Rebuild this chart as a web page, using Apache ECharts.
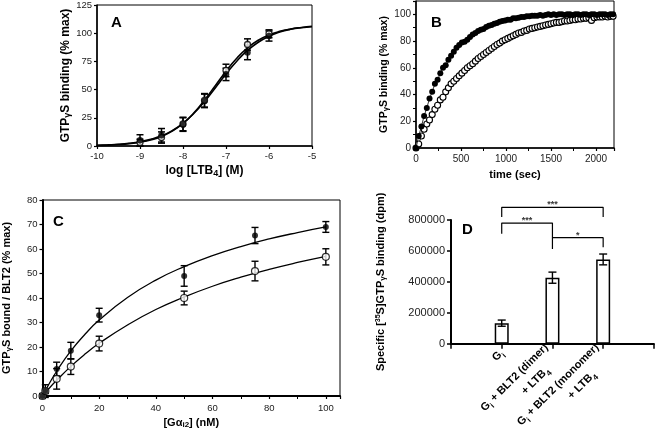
<!DOCTYPE html>
<html><head><meta charset="utf-8">
<script src="https://cdn.jsdelivr.net/npm/echarts@6/dist/echarts.min.js"></script>
<style>html,body{margin:0;padding:0;background:#fff}#c{width:656px;height:444px}</style>
</head><body><div id="c"></div>
<script>
// ---------- Panel A ----------
const aX = [-9, -8.5, -8, -7.5, -7, -6.5, -6];
const aOpen = [3, 7.5, 19.5, 40.5, 67, 90, 99.5];
const aOpenErr = [3, 5, 6, 6, 5.5, 5, 3.5];
const aFilled = [5, 9.5, 19, 40, 63.5, 83, 97.5];
const aFilledErr = [5, 6, 6, 6, 5.5, 6.5, 4.5];
const aCurveX = [-10, -9.75, -9.5, -9.25, -9, -8.75, -8.5, -8.25, -8, -7.75, -7.5, -7.25, -7, -6.75, -6.5, -6.25, -6, -5.75, -5.5, -5.25, -5];
const aCurveOpen = [0.5, 0.8, 1.3, 2.1, 3.4, 5.4, 8.5, 13.2, 20.0, 29.2, 40.7, 53.5, 66.3, 77.8, 87.0, 93.8, 98.5, 101.6, 103.6, 104.9, 105.7];
const aCurveFilled = [0.6, 1.0, 1.5, 2.4, 3.8, 5.9, 9.0, 13.6, 20.1, 28.8, 39.4, 51.5, 63.8, 75.2, 84.7, 92.0, 97.3, 101.0, 103.5, 105.1, 106.2];

// ---------- Panel B ----------
const bTime = [0,30,60,90,120,150,180,210,240,270,300,330,360,390,420,450,480,510,540,570,600,630,660,690,720,750,780,810,840,870,900,930,960,990,1020,1050,1080,1110,1140,1170,1200,1230,1260,1290,1320,1350,1380,1410,1440,1470,1500,1530,1560,1590,1620,1650,1680,1710,1740,1770,1800,1830,1860,1890,1920,1950,1980,2010,2040,2070,2100,2130,2160,2190];
const bFilled = [0,9,16,24,30,37,42,48,51,56,60,62,66,69,72,75,77,79,79.5,81,83,85,86,87.5,88.5,89,90.5,91.5,92,93,93.5,94.5,95,95.5,96,96,97,97,97.5,98,98,98.5,98.5,99,99,99,99.5,99,99.5,100,99.5,100,99.5,100,100,99.5,100,100,99.5,100,100,99.5,100,100,99.5,100,100,99.5,100,100,100,99.5,100,100];
const bOpen = [0,3,9,14,18,21,25,29,32,36,38,42,45,48,50,52,54,56,58,60,61.5,63,65,67,68.5,70,71.5,73,74.5,76,77.5,78.5,80,81,82,83,84,85,86,86.5,87.5,88,89,89.5,90,90.5,91,91.5,92,92.5,93,93.5,94,94,94.5,95,95,95.5,96,96,96.5,96.5,97,97,97.5,95.5,97.5,98,98,98,98.5,98,98.5,98.5];

// ---------- Panel C ----------
const cX = [0, 1, 5, 10, 20, 50, 75, 100];
const cFilled = [0, 2, 11, 18.5, 33, 49, 65.5, 69];
const cFilledErr = [0.5, 1, 2.8, 3.4, 2.8, 4.2, 3.3, 2.2];
const cOpen = [0, 2, 7, 12, 21.4, 40, 51, 56.8];
const cOpenErr = [1, 2.6, 4.2, 3.2, 3, 2.8, 4, 3.3];
const cCurveX = [0, 2, 5, 10, 15, 20, 30, 40, 50, 60, 70, 80, 90, 100];
const cCurveFilled = [0, 4.3, 10.1, 18.4, 25.2, 31, 40.2, 47.3, 52.8, 57.3, 61, 64.1, 66.7, 69];
const cCurveOpen = [0, 2.7, 6.4, 12.1, 17.1, 21.5, 29, 35.3, 40.4, 44.8, 48.5, 51.7, 54.5, 57];

// ---------- Panel D ----------
const dPos = [1, 2, 3];
const dLabels = ['G{s|i}', 'G{s|i} + BLT2 (dimer)\n+ LTB{s|4}     ', 'G{s|i} + BLT2 (monomer)\n+ LTB{s|4}       '];
const dVals = [133000, 427000, 545000];
const dErr = [20000, 36000, 35000];
const dBrackets = [
  [[1, 711000], [1, 780000], [2, 780000], [2, 613000]],
  [[2, 686000], [3, 686000], [3, 623000]],
  [[1, 819000], [1, 882000], [3, 882000], [3, 819000]]
];
const dStars = [[1.5, 780000, '***'], [2.5, 686000, '*'], [2, 882000, '***']];

const FONT = 'Liberation Sans, Arial, Helvetica, sans-serif';
const chart = echarts.init(document.getElementById('c'), null, {renderer: 'canvas'});

function errRender(capW, lw) {
  return function (params, api) {
    const x = api.value(0), lo = api.value(1), hi = api.value(2);
    const p1 = api.coord([x, lo]), p2 = api.coord([x, hi]);
    const w = capW / 2, st = {stroke: '#000', lineWidth: lw};
    return {type: 'group', children: [
      {type: 'line', shape: {x1: p1[0], y1: p1[1], x2: p2[0], y2: p2[1]}, style: st},
      {type: 'line', shape: {x1: p1[0] - w, y1: p1[1], x2: p1[0] + w, y2: p1[1]}, style: st},
      {type: 'line', shape: {x1: p2[0] - w, y1: p2[1], x2: p2[0] + w, y2: p2[1]}, style: st}
    ]};
  };
}
const zip2 = (xs, ys) => xs.map((x, i) => [x, ys[i]]);
const errData = (xs, ys, es) => xs.map((x, i) => [x, ys[i] - es[i], ys[i] + es[i]]);

const subRich = {s: {fontSize: 8, fontWeight: 'bold', fontFamily: FONT, verticalAlign: 'bottom', padding: [5, 0, 0, 0], color: '#000'}};
function nameStyle(size) {
  return {fontFamily: FONT, fontWeight: 'bold', fontSize: size, color: '#000',
    rich: {g: {fontSize: size - 3, fontWeight: 'bold', fontFamily: FONT, padding: [4, 0, 0, 0], color: '#000'},
           s: {fontSize: size - 3, fontWeight: 'bold', fontFamily: FONT, padding: [5, 0, 0, 0], color: '#000'},
           u: {fontSize: size - 4, fontWeight: 'bold', fontFamily: FONT, padding: [0, 0, 5, 0], color: '#000'}}};
}
function baseAxis(o) {
  return Object.assign({
    axisLine: {show: true, onZero: false, lineStyle: {color: '#000', width: 1.5}},
    axisTick: {show: true, length: 3, lineStyle: {color: '#000', width: 1.2}},
    splitLine: {show: false},
    nameLocation: 'middle'
  }, o);
}
const lbl = (size, margin, fmt) => ({fontFamily: FONT, fontSize: size, color: '#222', margin: margin, formatter: fmt || (v => String(v))});

const option = {
  animation: false,
  backgroundColor: '#fff',
  title: [
    {text: 'A', left: 106, top: 10, textStyle: {fontFamily: FONT, fontWeight: 'bold', fontSize: 15, color: '#000'}},
    {text: 'B', left: 426, top: 10, textStyle: {fontFamily: FONT, fontWeight: 'bold', fontSize: 15, color: '#000'}},
    {text: 'C', left: 48, top: 209, textStyle: {fontFamily: FONT, fontWeight: 'bold', fontSize: 15, color: '#000'}},
    {text: 'D', left: 457, top: 217, textStyle: {fontFamily: FONT, fontWeight: 'bold', fontSize: 15, color: '#000'}}
  ],
  grid: [
    {left: 97, top: 5, width: 215, height: 141, show: true, borderColor: '#000', borderWidth: 1},
    {left: 416, top: 1, width: 198, height: 147, show: true, borderColor: '#000', borderWidth: 1},
    {left: 41, top: 200, width: 299, height: 196, show: true, borderColor: '#000', borderWidth: 1},
    {left: 451, top: 220, width: 204, height: 136, show: false}
  ],
  xAxis: [
    baseAxis({gridIndex: 0, type: 'value', min: -10, max: -5, interval: 1,
      axisLabel: lbl(9.5, 5),
      name: 'log [LTB{s|4}] (M)', nameGap: 18, nameTextStyle: nameStyle(12)}),
    baseAxis({gridIndex: 1, type: 'value', min: 0, max: 2200, interval: 500,
      minorTick: {show: true, splitNumber: 2, length: 3, lineStyle: {color: '#000', width: 1}},
      axisLabel: lbl(10, 6, v => (v % 500 === 0 ? String(v) : '')),
      name: 'time (sec)', nameGap: 21, nameTextStyle: nameStyle(11)}),
    baseAxis({gridIndex: 2, type: 'value', min: 0, max: 105, interval: 20,
      axisLine: {show: true, onZero: false, lineStyle: {color: '#000', width: 2}},
      minorTick: {show: true, splitNumber: 2, length: 3, lineStyle: {color: '#000', width: 1}},
      axisLabel: lbl(9.5, 7, v => (v % 20 === 0 ? String(v) : '')),
      name: '[G\u03b1{s|i2}] (nM)', nameGap: 20, nameTextStyle: nameStyle(11)}),
    baseAxis({gridIndex: 3, type: 'value', min: 0, max: 4, interval: 1,
      axisLine: {show: true, onZero: false, lineStyle: {color: '#000', width: 2}},
      axisTick: {show: true, length: 5, lineStyle: {color: '#000', width: 1.5}},
      axisLabel: {fontFamily: FONT, fontSize: 11, fontWeight: 'bold', color: '#000', rotate: 45, margin: 8,
        lineHeight: 17, rich: subRich,
        formatter: v => { const i = dPos.indexOf(v); return i >= 0 ? dLabels[i] : ''; }}})
  ],
  yAxis: [
    baseAxis({gridIndex: 0, type: 'value', min: 0, max: 125, interval: 25,
      axisLabel: lbl(9.5, 5),
      name: 'GTP{g|\u03b3}S binding (% max)', nameGap: 17, nameTextStyle: nameStyle(12)}),
    baseAxis({gridIndex: 1, type: 'value', min: 0, max: 110, interval: 20,
      minorTick: {show: true, splitNumber: 2, length: 3, lineStyle: {color: '#000', width: 1}},
      axisLabel: lbl(10, 5, v => (v % 20 === 0 ? String(v) : '')),
      name: 'GTP{g|\u03b3}S binding (% max)', nameGap: 26, nameTextStyle: nameStyle(10.5)}),
    baseAxis({gridIndex: 2, type: 'value', min: 0, max: 80, interval: 10,
      axisLine: {show: true, onZero: false, lineStyle: {color: '#000', width: 2}},
      axisLabel: lbl(9.5, 5),
      name: 'GTP{g|\u03b3}S bound / BLT2 (% max)', nameGap: 30, nameTextStyle: nameStyle(11)}),
    baseAxis({gridIndex: 3, type: 'value', min: 0, max: 800000, interval: 200000,
      axisLine: {show: true, onZero: false, lineStyle: {color: '#000', width: 2}},
      axisTick: {show: true, length: 4, lineStyle: {color: '#000', width: 1.5}},
      axisLabel: lbl(11, 6),
      name: 'Specific [{u|35}S]GTP{g|\u03b3}S binding (dpm)', nameGap: 64, nameTextStyle: nameStyle(11)})
  ],
  series: [
    // Panel A
    {type: 'line', xAxisIndex: 0, yAxisIndex: 0, data: zip2(aCurveX, aCurveOpen), smooth: true, symbol: 'none', lineStyle: {color: '#000', width: 1.6}, z: 3},
    {type: 'line', xAxisIndex: 0, yAxisIndex: 0, data: zip2(aCurveX, aCurveFilled), smooth: true, symbol: 'none', lineStyle: {color: '#000', width: 1.6}, z: 3},
    {type: 'custom', xAxisIndex: 0, yAxisIndex: 0, renderItem: errRender(7, 1.5), data: errData(aX, aOpen, aOpenErr), z: 4},
    {type: 'custom', xAxisIndex: 0, yAxisIndex: 0, renderItem: errRender(7, 1.5), data: errData(aX, aFilled, aFilledErr), z: 4},
    {type: 'scatter', xAxisIndex: 0, yAxisIndex: 0, data: zip2(aX, aOpen), symbol: 'circle', symbolSize: 6, itemStyle: {color: '#fff', borderColor: '#000', borderWidth: 1.3}, z: 5},
    {type: 'scatter', xAxisIndex: 0, yAxisIndex: 0, data: zip2(aX, aFilled), symbol: 'circle', symbolSize: 6.5, itemStyle: {color: '#000'}, z: 6},
    // Panel B
    {type: 'line', xAxisIndex: 1, yAxisIndex: 1, data: zip2(bTime, bOpen), symbol: 'circle', symbolSize: 6, showAllSymbol: true,
      itemStyle: {color: '#fff', borderColor: '#000', borderWidth: 1.1}, lineStyle: {color: '#000', width: 0.8}, z: 4},
    {type: 'line', xAxisIndex: 1, yAxisIndex: 1, data: zip2(bTime, bFilled), symbol: 'circle', symbolSize: 6, showAllSymbol: true,
      itemStyle: {color: '#000'}, lineStyle: {color: '#000', width: 0.8}, z: 5},
    // Panel C
    {type: 'line', xAxisIndex: 2, yAxisIndex: 2, data: zip2(cCurveX, cCurveFilled), smooth: true, symbol: 'none', lineStyle: {color: '#000', width: 1.3}, z: 3},
    {type: 'line', xAxisIndex: 2, yAxisIndex: 2, data: zip2(cCurveX, cCurveOpen), smooth: true, symbol: 'none', lineStyle: {color: '#000', width: 1.3}, z: 3},
    {type: 'custom', xAxisIndex: 2, yAxisIndex: 2, renderItem: errRender(7, 1.4), data: errData(cX, cOpen, cOpenErr), z: 4},
    {type: 'custom', xAxisIndex: 2, yAxisIndex: 2, renderItem: errRender(7, 1.4), data: errData(cX, cFilled, cFilledErr), z: 4},
    {type: 'scatter', xAxisIndex: 2, yAxisIndex: 2, data: zip2(cX, cOpen), symbol: 'circle', symbolSize: 7, itemStyle: {color: '#fff', borderColor: '#000', borderWidth: 1.2}, z: 5},
    {type: 'scatter', xAxisIndex: 2, yAxisIndex: 2, data: zip2(cX, cFilled), symbol: 'circle', symbolSize: 6, itemStyle: {color: '#000'}, z: 6},
    // Panel D
    {type: 'bar', xAxisIndex: 3, yAxisIndex: 3, data: zip2(dPos, dVals), barWidth: 14,
      itemStyle: {color: '#fff', borderColor: '#000', borderWidth: 1.5}, z: 3},
    {type: 'custom', xAxisIndex: 3, yAxisIndex: 3, renderItem: errRender(8, 1.4), data: errData(dPos, dVals, dErr), z: 4},
    ...dBrackets.map(b => ({type: 'line', xAxisIndex: 3, yAxisIndex: 3, data: b, symbol: 'none', clip: false,
      lineStyle: {color: '#000', width: 1.2}, z: 4})),
    {type: 'scatter', xAxisIndex: 3, yAxisIndex: 3, data: dStars, symbolSize: 0, clip: false,
      label: {show: true, position: 'top', distance: -2, formatter: p => p.data[2], fontFamily: FONT, fontSize: 9, fontWeight: 'bold', color: '#000'}, z: 5}
  ]
};
chart.setOption(option);
</script>
</body></html>
